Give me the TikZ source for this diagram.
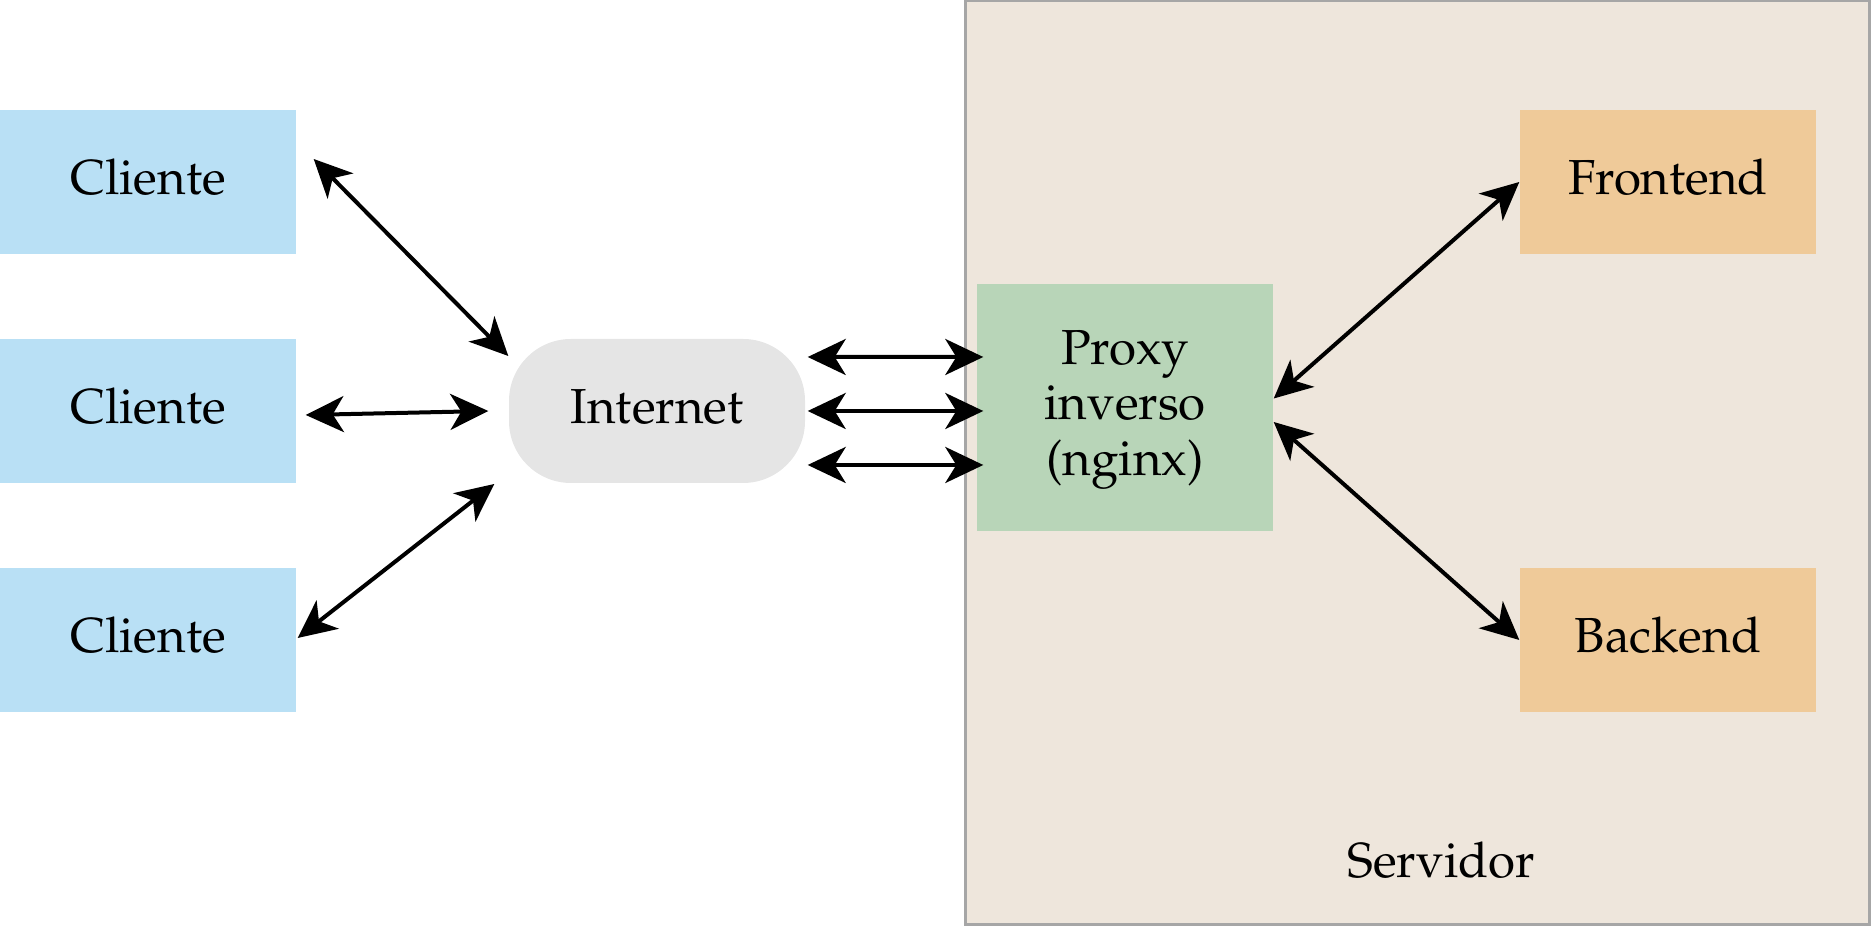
\documentclass[tikz,border=0pt]{standalone}
\usepackage[T1]{fontenc}
\usepackage{mathpazo}
\usetikzlibrary{arrows.meta,positioning}
\definecolor{clientblue}{RGB}{185,224,245}
\definecolor{netgray}{RGB}{229,229,229}
\definecolor{srvfill}{RGB}{238,230,220}
\definecolor{srvline}{RGB}{166,166,166}
\definecolor{proxygreen}{RGB}{184,213,184}
\definecolor{apporange}{RGB}{239,202,153}
\tikzset{%
  >={Stealth[width=3.6mm,length=3.8mm,inset=1.1mm]},
  % Specifications for style of nodes:
            box/.style = {rectangle, draw=none, minimum width=2.96cm,
                          minimum height=1.44cm, text centered,
                          text depth=0.1cm,
                          font=\fontsize{14}{15.8}\selectfont},
         client/.style = {box, fill=clientblue},
            net/.style = {box, fill=netgray, rounded corners=0.62cm},
          proxy/.style = {box, fill=proxygreen, minimum height=2.47cm},
            app/.style = {box, fill=apporange},
      container/.style = {rectangle, draw=srvline, line width=0.03cm,
                          fill=srvfill, minimum width=9.04cm,
                          minimum height=9.24cm},
           link/.style = {<->, line width=0.04cm}
}
\begin{document}
\begin{tikzpicture}[node distance=2.29cm, align=center]
  \useasboundingbox (0,0) rectangle (18.71,9.27);

  % Specification of nodes (position, etc.)
  \node (srv)      [container] at (14.17,4.64) {};
  \node (srvname)  [font=\fontsize{14}{15.8}\selectfont, inner sep=0pt]
                   at ([shift={(0.24,0.66)}]srv.south) {Servidor};

  \node (client2)  [client] at (1.48,5.16) {Cliente};
  \node (client1)  [client, above of=client2] {Cliente};
  \node (client3)  [client, below of=client2] {Cliente};
  \node (inet)     [net, right of=client2, xshift=2.8cm] {Internet};
  \node (proxy)    [proxy, right of=inet, xshift=2.39cm, yshift=0.035cm]
                   {Proxy\\inverso\\(nginx)};
  \node (frontend) [app] at (16.68,7.45) {Frontend};
  \node (backend)  [app, below of=frontend, yshift=-2.29cm] {Backend};

  % Specification of lines between nodes specified above
  \draw[link] ([shift={(0.17,0.23)}]client1.east) -- ([yshift=0.55cm]inet.west);
  \draw[link] ([shift={(0.09,-0.04)}]client2.east) -- ([xshift=-0.2cm]inet.west);
  \draw[link] ([shift={(0.01,0.02)}]client3.east) -- ([shift={(-0.14,-0.73)}]inet.west);
  \foreach \dy in {-0.54,0,0.54}
    \draw[link] ([shift={(0.02,\dy)}]inet.east) -- ([shift={(0.07,\dy-0.035)}]proxy.west);
  \draw[link] ([yshift=0.09cm]proxy.east) -- (frontend.west);
  \draw[link] ([yshift=-0.145cm]proxy.east) -- (backend.west);
\end{tikzpicture}
\end{document}
